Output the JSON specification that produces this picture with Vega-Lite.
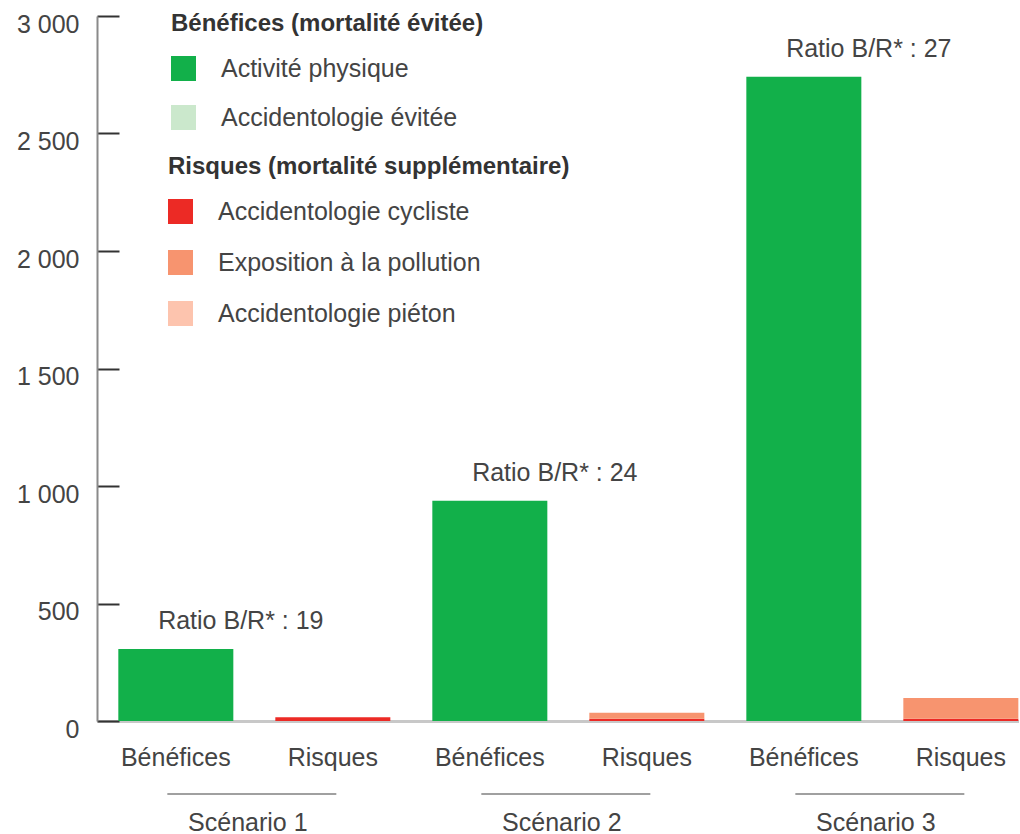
{
  "$schema": "https://vega.github.io/schema/vega-lite/v6.json",
  "width": 922,
  "height": 705,
  "autosize": {"type": "pad"},
  "padding": {"left": 16, "top": 12, "right": 0, "bottom": 0},
  "background": "white",
  "config": {
    "view": {"stroke": null},
    "font": "Liberation Sans",
    "text": {"font": "Liberation Sans"}
  },
  "data": {
    "values": [
      {"scenario": "Scénario 1", "barre": "Scénario 1 · Bénéfices", "groupe": "Bénéfices", "categorie": "Activité physique", "valeur": 306, "ratio": "Ratio B/R* : 19"},
      {"scenario": "Scénario 1", "barre": "Scénario 1 · Risques", "groupe": "Risques", "categorie": "Accidentologie cycliste", "valeur": 16},
      {"scenario": "Scénario 2", "barre": "Scénario 2 · Bénéfices", "groupe": "Bénéfices", "categorie": "Activité physique", "valeur": 937, "ratio": "Ratio B/R* : 24"},
      {"scenario": "Scénario 2", "barre": "Scénario 2 · Risques", "groupe": "Risques", "categorie": "Accidentologie cycliste", "valeur": 10},
      {"scenario": "Scénario 2", "barre": "Scénario 2 · Risques", "groupe": "Risques", "categorie": "Exposition à la pollution", "valeur": 25},
      {"scenario": "Scénario 3", "barre": "Scénario 3 · Bénéfices", "groupe": "Bénéfices", "categorie": "Activité physique", "valeur": 2742, "ratio": "Ratio B/R* : 27"},
      {"scenario": "Scénario 3", "barre": "Scénario 3 · Risques", "groupe": "Risques", "categorie": "Accidentologie cycliste", "valeur": 10},
      {"scenario": "Scénario 3", "barre": "Scénario 3 · Risques", "groupe": "Risques", "categorie": "Exposition à la pollution", "valeur": 88}
    ]
  },
  "encoding": {
    "x": {
      "field": "barre",
      "type": "nominal",
      "sort": null,
      "scale": {
        "domain": ["Scénario 1 · Bénéfices", "Scénario 1 · Risques", "Scénario 2 · Bénéfices", "Scénario 2 · Risques", "Scénario 3 · Bénéfices", "Scénario 3 · Risques"],
        "paddingInner": 0.2675, "paddingOuter": 0.07, "align": 0.97
      },
      "axis": {
        "title": null,
        "labelExpr": "split(datum.label, ' · ')[1]",
        "labelAngle": 0,
        "ticks": false,
        "domainColor": "#c8c8c8",
        "domainWidth": 3,
        "labelFontSize": 25,
        "labelColor": "#444444",
        "labelPadding": 24
      }
    }
  },
  "layer": [
    {
      "transform": [{"filter": "datum.groupe === 'Bénéfices'"}],
      "mark": {"type": "bar"},
      "encoding": {
        "y": {
          "field": "valeur",
          "type": "quantitative",
          "stack": "zero",
          "scale": {"domain": [0, 3000]},
          "axis": {
            "title": null,
            "values": [0, 500, 1000, 1500, 2000, 2500, 3000],
            "labelExpr": "replace(format(datum.value, ','), ',', ' ')",
            "grid": false,
            "domainColor": "#8a8a8a",
            "domainWidth": 2,
            "tickColor": "#333333",
            "tickWidth": 2,
            "tickSize": -22,
            "labelPadding": 40,
            "labelFontSize": 25,
            "labelColor": "#444444",
            "labelOffset": 8
          }
        },
        "color": {
          "field": "categorie",
          "type": "nominal",
          "scale": {"domain": ["Activité physique", "Accidentologie évitée"], "range": ["#12b04a", "#cbe8cc"]},
          "legend": {
            "title": "Bénéfices (mortalité évitée)",
            "orient": "none",
            "legendX": 74,
            "legendY": -4,
            "symbolType": "square",
            "symbolSize": 625,
            "symbolStrokeWidth": 0,
            "titleFontSize": 24,
            "titleFontWeight": "bold",
            "titleColor": "#333333",
            "titleLimit": 600,
            "titlePadding": 20,
            "labelFontSize": 25,
            "labelColor": "#444444",
            "labelLimit": 500,
            "labelOffset": 25,
            "rowPadding": 23
          }
        },
        "order": {"field": "categorie", "sort": "ascending"}
      }
    },
    {
      "transform": [{"filter": "datum.groupe === 'Risques'"}],
      "mark": {"type": "bar"},
      "encoding": {
        "y": {"field": "valeur", "type": "quantitative", "stack": "zero"},
        "color": {
          "field": "categorie",
          "type": "nominal",
          "scale": {"domain": ["Accidentologie cycliste", "Exposition à la pollution", "Accidentologie piéton"], "range": ["#ec2a25", "#f7946f", "#fdc4ae"]},
          "legend": {
            "title": "Risques (mortalité supplémentaire)",
            "orient": "none",
            "legendX": 71,
            "legendY": 139,
            "symbolType": "square",
            "symbolSize": 625,
            "symbolStrokeWidth": 0,
            "titleFontSize": 24,
            "titleFontWeight": "bold",
            "titleColor": "#333333",
            "titleLimit": 600,
            "titlePadding": 20,
            "labelFontSize": 25,
            "labelColor": "#444444",
            "labelLimit": 500,
            "labelOffset": 25,
            "rowPadding": 25
          }
        },
        "order": {"field": "categorie", "sort": "ascending"}
      }
    },
    {
      "transform": [{"filter": "isValid(datum.ratio)"}],
      "mark": {"type": "text", "dx": 65, "dy": -28, "fontSize": 25, "color": "#444444"},
      "encoding": {
        "y": {"field": "valeur", "type": "quantitative"},
        "text": {"field": "ratio"}
      }
    },
    {
      "transform": [{"filter": "datum.groupe === 'Bénéfices'"}],
      "mark": {"type": "tick", "orient": "horizontal", "color": "#777777", "thickness": 2, "size": 169, "xOffset": 76, "yOffset": 73},
      "encoding": {
        "y": {"datum": 0}
      }
    },
    {
      "transform": [{"filter": "datum.groupe === 'Bénéfices'"}],
      "mark": {"type": "text", "dx": 72, "dy": 102, "fontSize": 25, "color": "#444444"},
      "encoding": {
        "y": {"datum": 0},
        "text": {"field": "scenario"}
      }
    }
  ],
  "resolve": {"scale": {"color": "independent"}}
}
